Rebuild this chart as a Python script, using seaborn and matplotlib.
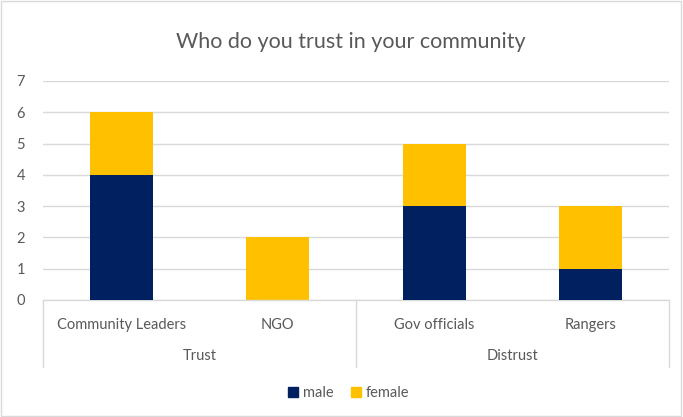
import matplotlib
matplotlib.use("Agg")
import matplotlib.pyplot as plt
import matplotlib.patches as mpatches
import seaborn as sns
import pandas as pd

categories = ["Community Leaders", "NGO", "Gov officials", "Rangers"]
groups = ["Trust", "Distrust"]
group_sizes = [2, 2]
male = [4, 0, 3, 1]
female = [2, 2, 2, 2]
title = "Who do you trust in your community"

MALE_C = "#002060"
FEMALE_C = "#FFC000"
TEXT_C = "#595959"
GRID_C = "#D9D9D9"

sns.set_theme(style="white")
plt.rcParams["font.family"] = ["Lato", "DejaVu Sans"]

df = pd.DataFrame({
    "category": categories,
    "male": male,
    "total": [m + f for m, f in zip(male, female)],
})

fig = plt.figure(figsize=(6.83, 4.17), dpi=100)
ax = fig.add_axes([0.063, 0.2806, 0.9165, 0.5252])

# stacked bars: total (female on top) drawn first, male drawn over it
sns.barplot(data=df, x="category", y="total", color=FEMALE_C, width=0.405,
            saturation=1, ax=ax, zorder=2, linewidth=0)
sns.barplot(data=df, x="category", y="male", color=MALE_C, width=0.405,
            saturation=1, ax=ax, zorder=3, linewidth=0)

ax.set_ylim(0, 7)
ax.set_xlim(-0.5, len(categories) - 0.5)
ax.set_yticks(range(0, 8))
ax.yaxis.grid(True, color=GRID_C, linewidth=1)
ax.set_axisbelow(True)
for s in ["top", "right", "left"]:
    ax.spines[s].set_visible(False)
ax.spines["bottom"].set_color(GRID_C)
ax.spines["bottom"].set_linewidth(1)
ax.tick_params(axis="y", length=0, pad=13, labelsize=10.5, labelcolor=TEXT_C)
ax.set_xlabel("")
ax.set_ylabel("")
ax.set_xticks([])

# two-level category axis
trans = ax.get_xaxis_transform()
bounds = [-0.5]
for n in group_sizes:
    bounds.append(bounds[-1] + n)
for b in bounds:
    ax.plot([b, b], [0, -0.305], transform=trans, color=GRID_C, lw=1,
            clip_on=False)
for i, c in enumerate(categories):
    ax.text(i, -0.115, c, transform=trans, ha="center", va="center",
            fontsize=10.5, color=TEXT_C)
for g, lo, hi in zip(groups, bounds[:-1], bounds[1:]):
    ax.text((lo + hi) / 2, -0.255, g, transform=trans, ha="center",
            va="center", fontsize=10.5, color=TEXT_C)

fig.text(0.513, 0.90, title, ha="center", va="center", fontsize=15.5,
         color=TEXT_C)

handles = [mpatches.Patch(color=MALE_C, label="male"),
           mpatches.Patch(color=FEMALE_C, label="female")]
fig.legend(handles=handles, loc="center", bbox_to_anchor=(0.51, 0.058),
           ncol=2, frameon=False, fontsize=10.5, handlelength=0.7,
           handleheight=0.7, handletextpad=0.3, columnspacing=1.2,
           labelcolor=TEXT_C)

fig.patches.append(mpatches.Rectangle((0.002, 0.003), 0.995, 0.994,
                                      transform=fig.transFigure,
                                      fill=False, edgecolor=GRID_C, lw=1))

fig.savefig("out.png", dpi=100)
